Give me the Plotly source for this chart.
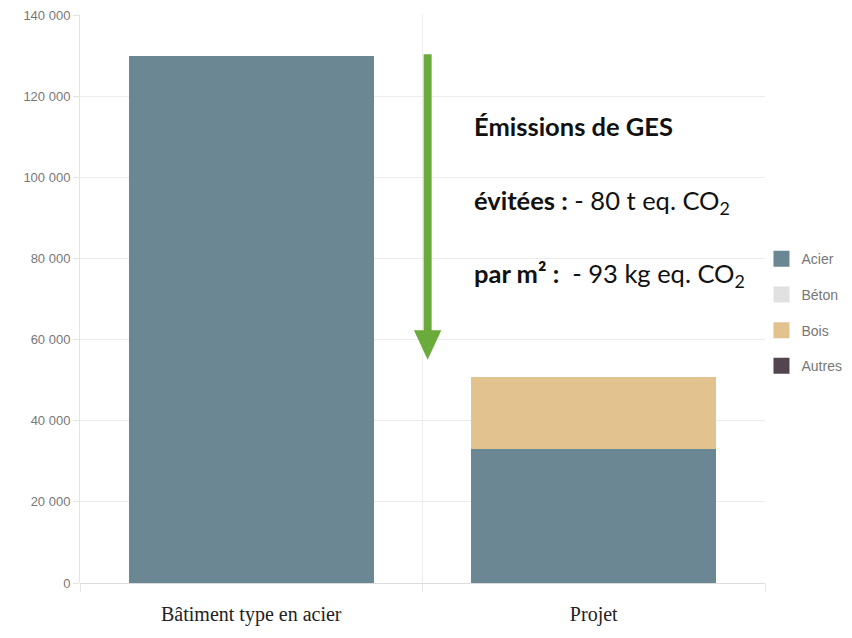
import plotly.graph_objects as go

categories = ["Bâtiment type en acier", "Projet"]
acier = [130000, 33000]
beton = [0, 0]
bois = [0, 17800]
autres = [0, 0]

series = [
    ("Acier", acier, "#6b8793"),
    ("Béton", beton, "#e1e1e1"),
    ("Bois", bois, "#e2c38f"),
    ("Autres", autres, "#52454f"),
]

fig = go.Figure()
for i, (name, vals, col) in enumerate(series):
    fig.add_trace(go.Bar(
        x=categories, y=vals, name=name, marker_color=col,
        marker_line_width=0, legendgroup=str(i), width=0.715, showlegend=False,
    ))
    # legend entry with a larger square swatch
    fig.add_trace(go.Scatter(
        x=[None], y=[None], mode="markers", name=name, legendgroup=str(i),
        marker=dict(symbol="square", size=18, color=col, line=dict(width=0)),
    ))

arrow_col = "#6aab3b"
fig.add_shape(type="line", xref="x", yref="y", x0=0.515, x1=0.515,
              y0=130300, y1=60000, line=dict(color=arrow_col, width=8))
fig.add_shape(type="path", xref="x", yref="y",
              path="M 0.475 62300 L 0.555 62300 L 0.515 55000 Z",
              fillcolor=arrow_col, line=dict(width=0))

tfont = dict(family="Lato, Open Sans, sans-serif", size=25.5, color="#111")
fig.add_annotation(x=0.645, y=112600, xref="x", yref="y", xanchor="left",
                   text="<b>Émissions de GES</b>", showarrow=False, font=tfont)
fig.add_annotation(x=0.645, y=94000, xref="x", yref="y", xanchor="left",
                   text="<b>évitées :</b> - 80 t eq. CO<sub>2</sub>", showarrow=False, font=tfont)
fig.add_annotation(x=0.645, y=75800, xref="x", yref="y", xanchor="left",
                   text="<b>par m² :</b>  - 93 kg eq. CO<sub>2</sub>", showarrow=False, font=tfont)

# page offset of 8px (default body margin) is compensated in the margins
fig.update_layout(
    width=836, height=622,
    barmode="stack",
    separators=", ",
    paper_bgcolor="white", plot_bgcolor="white",
    margin=dict(l=72, r=0, t=7, b=47, autoexpand=False),
    showlegend=True,
    legend=dict(x=0.892, y=0.476, xanchor="left", yanchor="middle",
                traceorder="grouped", tracegroupgap=14.5,
                itemsizing="trace",
                font=dict(family="Liberation Sans Narrow, Arial Narrow, Liberation Sans, sans-serif",
                          size=14, color="#777"),
                bgcolor="rgba(0,0,0,0)", itemwidth=30),
    xaxis=dict(
        domain=[0, 685 / 764], automargin=False,
        tickson="boundaries", showgrid=True, gridcolor="#ececec", gridwidth=1,
        ticks="outside", ticklen=8, tickcolor="#e6e6e6",
        showline=False, ticklabelstandoff=17,
        tickfont=dict(family="Liberation Serif, Times New Roman, serif", size=20, color="#222"),
        range=[-0.5, 1.5],
    ),
    yaxis=dict(
        range=[0, 140000], dtick=20000, tickformat=",d", automargin=False,
        ticklabeloverflow="allow",
        showgrid=True, gridcolor="#ececec", gridwidth=1,
        zeroline=True, zerolinecolor="#dcdcdc", zerolinewidth=1,
        showline=True, linecolor="#e3e3e3", linewidth=1,
        ticks="outside", ticklen=6, tickcolor="#e3e3e3",
        tickfont=dict(family="Liberation Sans Narrow, Arial Narrow, Liberation Sans, sans-serif",
                      size=13, color="#777"),
    ),
)

fig.write_html("out.html")
